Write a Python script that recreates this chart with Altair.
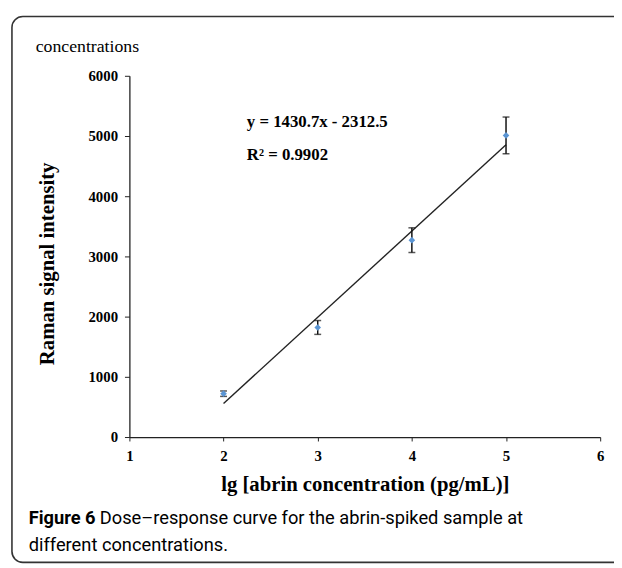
import altair as alt
import pandas as pd

# Data
lg_conc = [2, 3, 4, 5]
raman_mean = [720, 1820, 3270, 5010]
raman_err = [45, 115, 205, 305]

x_ticks = [1, 2, 3, 4, 5, 6]
y_ticks = [0, 1000, 2000, 3000, 4000, 5000, 6000]

y_title = "Raman signal intensity"
x_title = "lg [abrin concentration (pg/mL)]"
equation_text = "y = 1430.7x - 2312.5"
r2_text = "R\u00b2 = 0.9902"
top_text = "concentrations"
caption_bold = "Figure 6"
caption_line1 = "Dose\u2013response curve for the abrin-spiked sample at"
caption_line2 = "different concentrations."

df = pd.DataFrame({
    "x": lg_conc,
    "y": raman_mean,
    "lo": [m - e for m, e in zip(raman_mean, raman_err)],
    "hi": [m + e for m, e in zip(raman_mean, raman_err)],
})

SERIF = "Liberation Serif"
SANS = "Roboto"

xscale = alt.Scale(domain=[1, 6], nice=False, zero=False)
yscale = alt.Scale(domain=[0, 6000], nice=False)

xaxis = alt.Axis(values=x_ticks, format="d", title=x_title,
                 labelFont=SERIF, labelFontWeight="bold", labelFontSize=15, labelColor="black",
                 titleFont=SERIF, titleFontWeight="bold", titleFontSize=21, titleColor="black",
                 domainColor="#222", domainWidth=1.3, tickColor="#222", tickSize=4,
                 labelPadding=8, titlePadding=10, grid=False, labelFlush=False)
yaxis = alt.Axis(values=y_ticks, format="d", title=y_title,
                 labelFont=SERIF, labelFontWeight="bold", labelFontSize=15, labelColor="black",
                 titleFont=SERIF, titleFontWeight="bold", titleFontSize=21, titleColor="black",
                 domainColor="#222", domainWidth=1.3, tickColor="#222", tickSize=5,
                 labelPadding=7, grid=False, titleX=-73, titleY=190, titleAngle=-90,
                 titleAlign="center", titleBaseline="bottom")

one = alt.Data(values=[{"k": 1}])

frame = alt.Chart(one).mark_rect(
    fill=None, stroke="#333", strokeWidth=1.6, cornerRadius=11
).encode(x=alt.value(-119), x2=alt.value(560), y=alt.value(-60), y2=alt.value(493))

line = alt.Chart(df).transform_regression("x", "y", extent=[2, 5]).mark_line(
    color="#222", strokeWidth=1.4
).encode(x=alt.X("x:Q", scale=xscale, axis=xaxis, title=x_title),
         y=alt.Y("y:Q", scale=yscale, axis=yaxis, title=y_title))

err = alt.Chart(df).mark_errorbar(
    ticks={"size": 7, "thickness": 1.5}, color="#111", thickness=1.5
).encode(x=alt.X("x:Q", scale=xscale, title=x_title),
         y=alt.Y("lo:Q", scale=yscale, title=y_title), y2="hi:Q")

pts = alt.Chart(df).mark_point(
    shape="diamond", filled=True, color="#5b95d3", size=45, opacity=1
).encode(x=alt.X("x:Q", scale=xscale, title=x_title),
         y=alt.Y("y:Q", scale=yscale, title=y_title))

def label(text, x, y, font, size, weight="normal", color="black"):
    return alt.Chart(one).mark_text(
        text=text, font=font, fontSize=size, fontWeight=weight, color=color,
        align="left", baseline="middle"
    ).encode(x=alt.value(x), y=alt.value(y))

texts = [
    label(equation_text, 119, 47, SERIF, 17, "bold"),
    label(r2_text, 119, 80, SERIF, 17, "bold"),
    label(top_text, -95, -29, SERIF, 18),
    label(caption_bold, -102, 448, SANS, 18.5, "bold"),
    label(caption_line1, -30, 448, SANS, 18.5),
    label(caption_line2, -102, 475, SANS, 18.5),
]

chart = alt.layer(frame, line, err, pts, *texts).properties(
    width=477, height=366,
    autosize=alt.AutoSizeParams(type="none"),
    padding={"left": 123, "top": 65, "right": 14, "bottom": 129},
).configure_view(stroke=None)

chart.save("out.html", embed_options={"renderer": "svg", "actions": False})
